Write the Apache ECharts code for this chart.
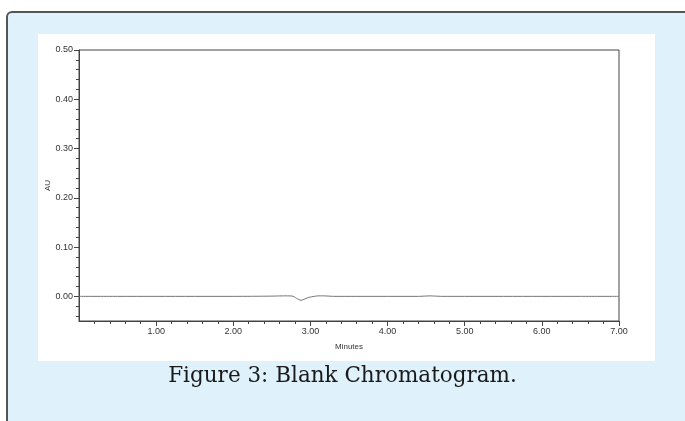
<!DOCTYPE html>
<html>
<head>
<meta charset="utf-8">
<script src="https://cdn.jsdelivr.net/npm/echarts@6/dist/echarts.min.js"></script>
<style>
html,body{margin:0;padding:0;background:#fff;}
#c{width:685px;height:421px;}
</style>
</head>
<body>
<div id="c"></div>
<script>
// Data
const times = [0.00, 0.50, 1.00, 1.50, 2.00, 2.50, 2.65, 2.76, 2.82, 2.88, 2.93, 2.98, 3.05, 3.10, 3.18, 3.30, 3.60, 4.00, 4.40, 4.55, 4.70, 5.00, 5.50, 6.00, 6.50, 7.00];
const absorbance = [0.000, 0.000, 0.000, 0.000, 0.000, 0.0005, 0.001, 0.0008, -0.004, -0.008, -0.005, -0.002, 0.000, 0.001, 0.001, 0.000, 0.000, 0.000, 0.000, 0.001, 0.000, 0.000, 0.000, 0.000, 0.000, 0.000];
const xMajorTicks = [1, 2, 3, 4, 5, 6, 7];
const xMinorTicks = [0.2,0.4,0.6,0.8,1.2,1.4,1.6,1.8,2.2,2.4,2.6,2.8,3.2,3.4,3.6,3.8,4.2,4.4,4.6,4.8,5.2,5.4,5.6,5.8,6.2,6.4,6.6,6.8];
const yMajorTicks = [0, 0.1, 0.2, 0.3, 0.4, 0.5];
const yMinorTicks = [-0.04,-0.02,0.02,0.04,0.06,0.08,0.12,0.14,0.16,0.18,0.22,0.24,0.26,0.28,0.32,0.34,0.36,0.38,0.42,0.44,0.46,0.48];
const caption = "Figure 3: Blank Chromatogram.";

const chart = echarts.init(document.getElementById('c'), null, {renderer: 'canvas'});
const labelFont = {fontFamily: 'Liberation Sans, Arial, sans-serif', fontSize: 9, color: '#333'};
const axisColor = '#444';

chart.setOption({
  animation: false,
  backgroundColor: '#fff',
  graphic: [
    {type: 'rect', z: -10, shape: {x: 7, y: 12, width: 800, height: 500, r: 5},
     style: {fill: '#dff1fb', stroke: '#555', lineWidth: 2}},
    {type: 'rect', z: -9, shape: {x: 38, y: 34, width: 617, height: 327},
     style: {fill: '#fff'}},
    {type: 'text', left: 'center', top: 365, z: 5,
     style: {text: caption, font: '21.5px "DejaVu Serif", serif', fill: '#1a1a1a'}}
  ],
  grid: {left: 79, right: 66, top: 50, bottom: 100, show: true, borderColor: axisColor, borderWidth: 1, backgroundColor: 'transparent'},
  xAxis: [
    {type: 'value', min: 0, max: 7, position: 'bottom',
     name: 'Minutes', nameLocation: 'middle', nameGap: 22, nameMoveOverlap: false,
     nameTextStyle: {fontFamily: 'Liberation Sans, Arial, sans-serif', fontSize: 8, color: '#333'},
     axisLine: {show: true, onZero: false, lineStyle: {color: axisColor, width: 1}},
     axisTick: {show: true, length: 5, inside: false, customValues: xMajorTicks, lineStyle: {color: axisColor}},
     axisLabel: Object.assign({customValues: xMajorTicks, margin: 6, formatter: v => Number(v).toFixed(2)}, labelFont),
     splitLine: {show: false}},
    {type: 'value', min: 0, max: 7, position: 'bottom',
     axisLine: {show: false, onZero: false},
     axisTick: {show: true, length: 3, customValues: xMinorTicks, lineStyle: {color: axisColor}},
     axisLabel: {show: false}, splitLine: {show: false}}
  ],
  yAxis: [
    {type: 'value', min: -0.05, max: 0.5, position: 'left',
     name: 'AU', nameLocation: 'middle', nameGap: 27, nameRotate: 90, nameMoveOverlap: false,
     nameTextStyle: {fontFamily: 'Liberation Sans, Arial, sans-serif', fontSize: 8, color: '#333'},
     axisLine: {show: true, onZero: false, lineStyle: {color: axisColor, width: 1}},
     axisTick: {show: true, length: 5, customValues: yMajorTicks, lineStyle: {color: axisColor}},
     axisLabel: Object.assign({customValues: yMajorTicks, margin: 6, formatter: v => Number(v).toFixed(2)}, labelFont),
     splitLine: {show: false}},
    {type: 'value', min: -0.05, max: 0.5, position: 'left',
     axisLine: {show: false, onZero: false},
     axisTick: {show: true, length: 3, customValues: yMinorTicks, lineStyle: {color: axisColor}},
     axisLabel: {show: false}, splitLine: {show: false}}
  ],
  series: [{
    type: 'line', xAxisIndex: 0, yAxisIndex: 0,
    data: times.map((t, i) => [t, absorbance[i]]),
    showSymbol: false, smooth: 0.3,
    lineStyle: {color: '#777', width: 1}
  }]
});
</script>
</body>
</html>
